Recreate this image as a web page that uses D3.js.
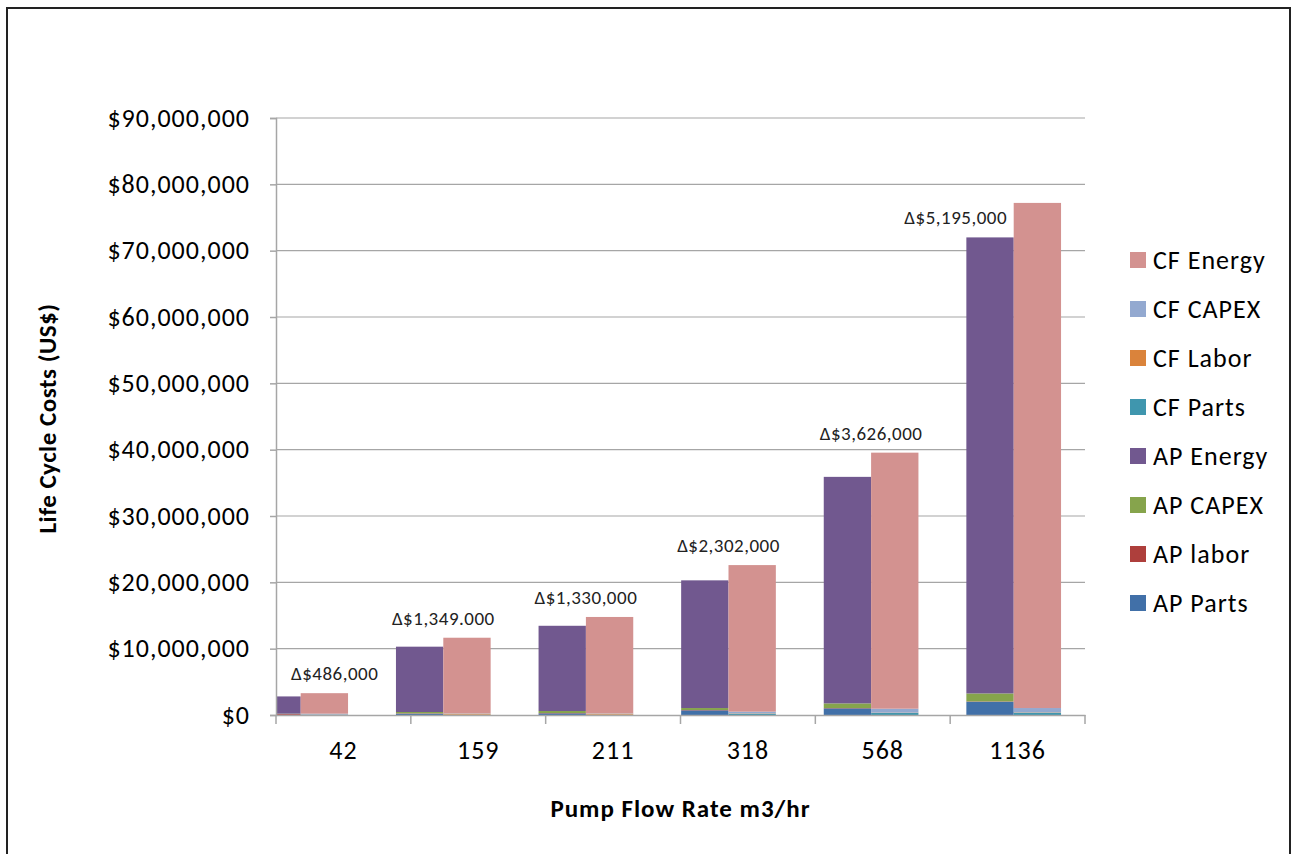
<!DOCTYPE html>
<html>
<head>
<meta charset="utf-8">
<script src="https://cdn.jsdelivr.net/npm/d3@7"></script>
<style>
  html, body { margin: 0; padding: 0; background: #fff; }
  svg { display: block; font-family: Calibri, Carlito, Lato, sans-serif; }
</style>
</head>
<body>
<div id="chart"></div>
<script>
/* Data (US$ millions) */
const flowRates = ['42', '159', '211', '318', '568', '1136'];

const apParts  = [0.03, 0.20, 0.25, 0.70, 1.00, 2.00];
const apLabor  = [0.12, 0.05, 0.05, 0.05, 0.05, 0.05];
const apCapex  = [0.05, 0.20, 0.30, 0.30, 0.70, 1.20];
const apEnergy = [2.60, 9.85, 12.85, 19.25, 34.15, 68.75];

const cfParts  = [0.05, 0.05, 0.05, 0.20, 0.30, 0.35];
const cfLabor  = [0.03, 0.15, 0.15, 0.05, 0.05, 0.05];
const cfCapex  = [0.12, 0.05, 0.05, 0.25, 0.60, 0.65];
const cfEnergy = [3.09, 11.40, 14.53, 22.10, 38.60, 76.15];

const deltaLabels = ['Δ$486,000', 'Δ$1,349.000', 'Δ$1,330,000', 'Δ$2,302,000', 'Δ$3,626,000', 'Δ$5,195,000'];

const yTicks = [0, 10, 20, 30, 40, 50, 60, 70, 80, 90];

const legendItems = ['CF Energy', 'CF CAPEX', 'CF Labor', 'CF Parts', 'AP Energy', 'AP CAPEX', 'AP labor', 'AP Parts'];

const COLORS = {
  'AP Parts': '#4170A8',
  'AP labor': '#AE3F3C',
  'AP CAPEX': '#86A44C',
  'AP Energy': '#71588F',
  'CF Parts': '#3F96AE',
  'CF Labor': '#DA833B',
  'CF CAPEX': '#93A9D0',
  'CF Energy': '#D39290'
};

/* Layout */
const width = 1294;
const height = 854;
const plot = { left: 276, right: 1085, top: 118, bottom: 715 };
const barStep = 142.6; // bar groups sit on their own band, offset from the category axis
const FONT = 'Calibri, Carlito, Lato, sans-serif';

const svg = d3.select('#chart')
  .append('svg')
  .attr('width', width)
  .attr('height', height);

// outer frame
svg.append('rect')
  .attr('x', 7).attr('y', 8)
  .attr('width', 1283).attr('height', 860)
  .attr('fill', '#fff')
  .attr('stroke', '#222')
  .attr('stroke-width', 2);

const yScale = d3.scaleLinear()
  .domain([0, 90])
  .range([plot.bottom, plot.top]);

const xCat = d3.scaleBand()
  .domain(flowRates)
  .range([plot.left, plot.right]);

const xBars = d3.scaleBand()
  .domain(flowRates)
  .range([plot.right - barStep * flowRates.length, plot.right])
  .paddingInner(0.336)
  .paddingOuter(0.168);

const xSub = d3.scaleBand()
  .domain(['AP', 'CF'])
  .range([0, xBars.bandwidth()]);

// gridlines
svg.append('g')
  .selectAll('line')
  .data(yTicks.slice(1))
  .join('line')
  .attr('x1', plot.left)
  .attr('x2', plot.right)
  .attr('y1', d => yScale(d))
  .attr('y2', d => yScale(d))
  .attr('stroke', '#A6A6A6')
  .attr('stroke-width', 1.2);

// stacked bars
const rows = flowRates.map((f, i) => ({
  flow: f,
  'AP Parts': apParts[i], 'AP labor': apLabor[i], 'AP CAPEX': apCapex[i], 'AP Energy': apEnergy[i],
  'CF Parts': cfParts[i], 'CF Labor': cfLabor[i], 'CF CAPEX': cfCapex[i], 'CF Energy': cfEnergy[i]
}));

const groups = [
  { name: 'AP', keys: ['AP Parts', 'AP labor', 'AP CAPEX', 'AP Energy'] },
  { name: 'CF', keys: ['CF Parts', 'CF Labor', 'CF CAPEX', 'CF Energy'] }
];

svg.append('clipPath')
  .attr('id', 'plot-clip')
  .append('rect')
  .attr('x', plot.left + 1)
  .attr('y', 0)
  .attr('width', plot.right - plot.left)
  .attr('height', plot.bottom);

const barLayer = svg.append('g').attr('clip-path', 'url(#plot-clip)');

groups.forEach(grp => {
  const series = d3.stack().keys(grp.keys)(rows);
  barLayer.append('g')
    .selectAll('g')
    .data(series)
    .join('g')
    .attr('fill', s => COLORS[s.key])
    .selectAll('rect')
    .data(s => s)
    .join('rect')
    .attr('x', d => xBars(d.data.flow) + xSub(grp.name))
    .attr('width', xSub.bandwidth())
    .attr('y', d => yScale(d[1]))
    .attr('height', d => yScale(d[0]) - yScale(d[1]));
});

// axes
const yAxis = d3.axisLeft(yScale)
  .tickValues(yTicks)
  .tickSize(6)
  .tickPadding(20)
  .tickFormat(d => '$' + d3.format(',')(d * 1e6));

const yG = svg.append('g')
  .attr('transform', `translate(${plot.left},0)`)
  .call(yAxis);

const xAxis = d3.axisBottom(xCat)
  .tickSize(0)
  .tickPadding(35);

const xG = svg.append('g')
  .attr('transform', `translate(0,${plot.bottom})`)
  .call(xAxis);

// category boundary ticks
xG.append('g')
  .selectAll('line')
  .data(d3.range(flowRates.length + 1))
  .join('line')
  .attr('x1', i => plot.left + i * xCat.step())
  .attr('x2', i => plot.left + i * xCat.step())
  .attr('y1', 0)
  .attr('y2', 9)
  .attr('stroke', '#A6A6A6')
  .attr('stroke-width', 1.5);

[yG, xG].forEach(g => {
  g.select('.domain').attr('stroke', '#A6A6A6').attr('stroke-width', 1.5);
  g.selectAll('.tick line').attr('stroke', '#A6A6A6').attr('stroke-width', 1.5);
  g.selectAll('.tick text')
    .attr('fill', '#000')
    .style('font-family', FONT)
    .style('font-size', '26px')
    .style('letter-spacing', '1px');
});
xG.selectAll('.tick text').attr('dy', '0.35em');

// delta labels: placed above the taller bar of each pair, nudged like the hand-placed text boxes
const labelNudge = [[34, 0], [0, 0], [0, 0], [0, 0], [0, 0], [-58, 34]];
svg.append('g')
  .selectAll('text')
  .data(rows)
  .join('text')
  .attr('x', (d, i) => xBars(d.flow) + xBars.bandwidth() / 2 + labelNudge[i][0])
  .attr('y', (d, i) => yScale(d3.max(groups, g => d3.sum(g.keys, k => d[k]))) - 13 + labelNudge[i][1])
  .attr('text-anchor', 'middle')
  .style('font-size', '19px')
  .style('letter-spacing', '0.5px')
  .attr('fill', '#222')
  .text((d, i) => deltaLabels[i]);

// axis titles
svg.append('text')
  .attr('transform', `translate(56,${(plot.top + plot.bottom) / 2 + 2}) rotate(-90)`)
  .attr('text-anchor', 'middle')
  .style('font-size', '25px')
  .style('font-weight', 'bold')
  .style('letter-spacing', '0.5px')
  .text('Life Cycle Costs (US$)');

svg.append('text')
  .attr('x', (plot.left + plot.right) / 2)
  .attr('y', 817)
  .attr('text-anchor', 'middle')
  .style('font-size', '25px')
  .style('font-weight', 'bold')
  .style('letter-spacing', '1px')
  .text('Pump Flow Rate m3/hr');

// legend
const legend = svg.append('g')
  .attr('transform', 'translate(1130,260)');

const item = legend.selectAll('g')
  .data(legendItems)
  .join('g')
  .attr('transform', (d, i) => `translate(0,${i * 49})`);

item.append('rect')
  .attr('x', 0)
  .attr('y', -8)
  .attr('width', 16)
  .attr('height', 16)
  .attr('fill', d => COLORS[d]);

item.append('text')
  .attr('x', 23)
  .attr('dy', '0.35em')
  .style('font-size', '26px')
  .style('letter-spacing', '1px')
  .attr('fill', '#000')
  .text(d => d);
</script>
</body>
</html>
